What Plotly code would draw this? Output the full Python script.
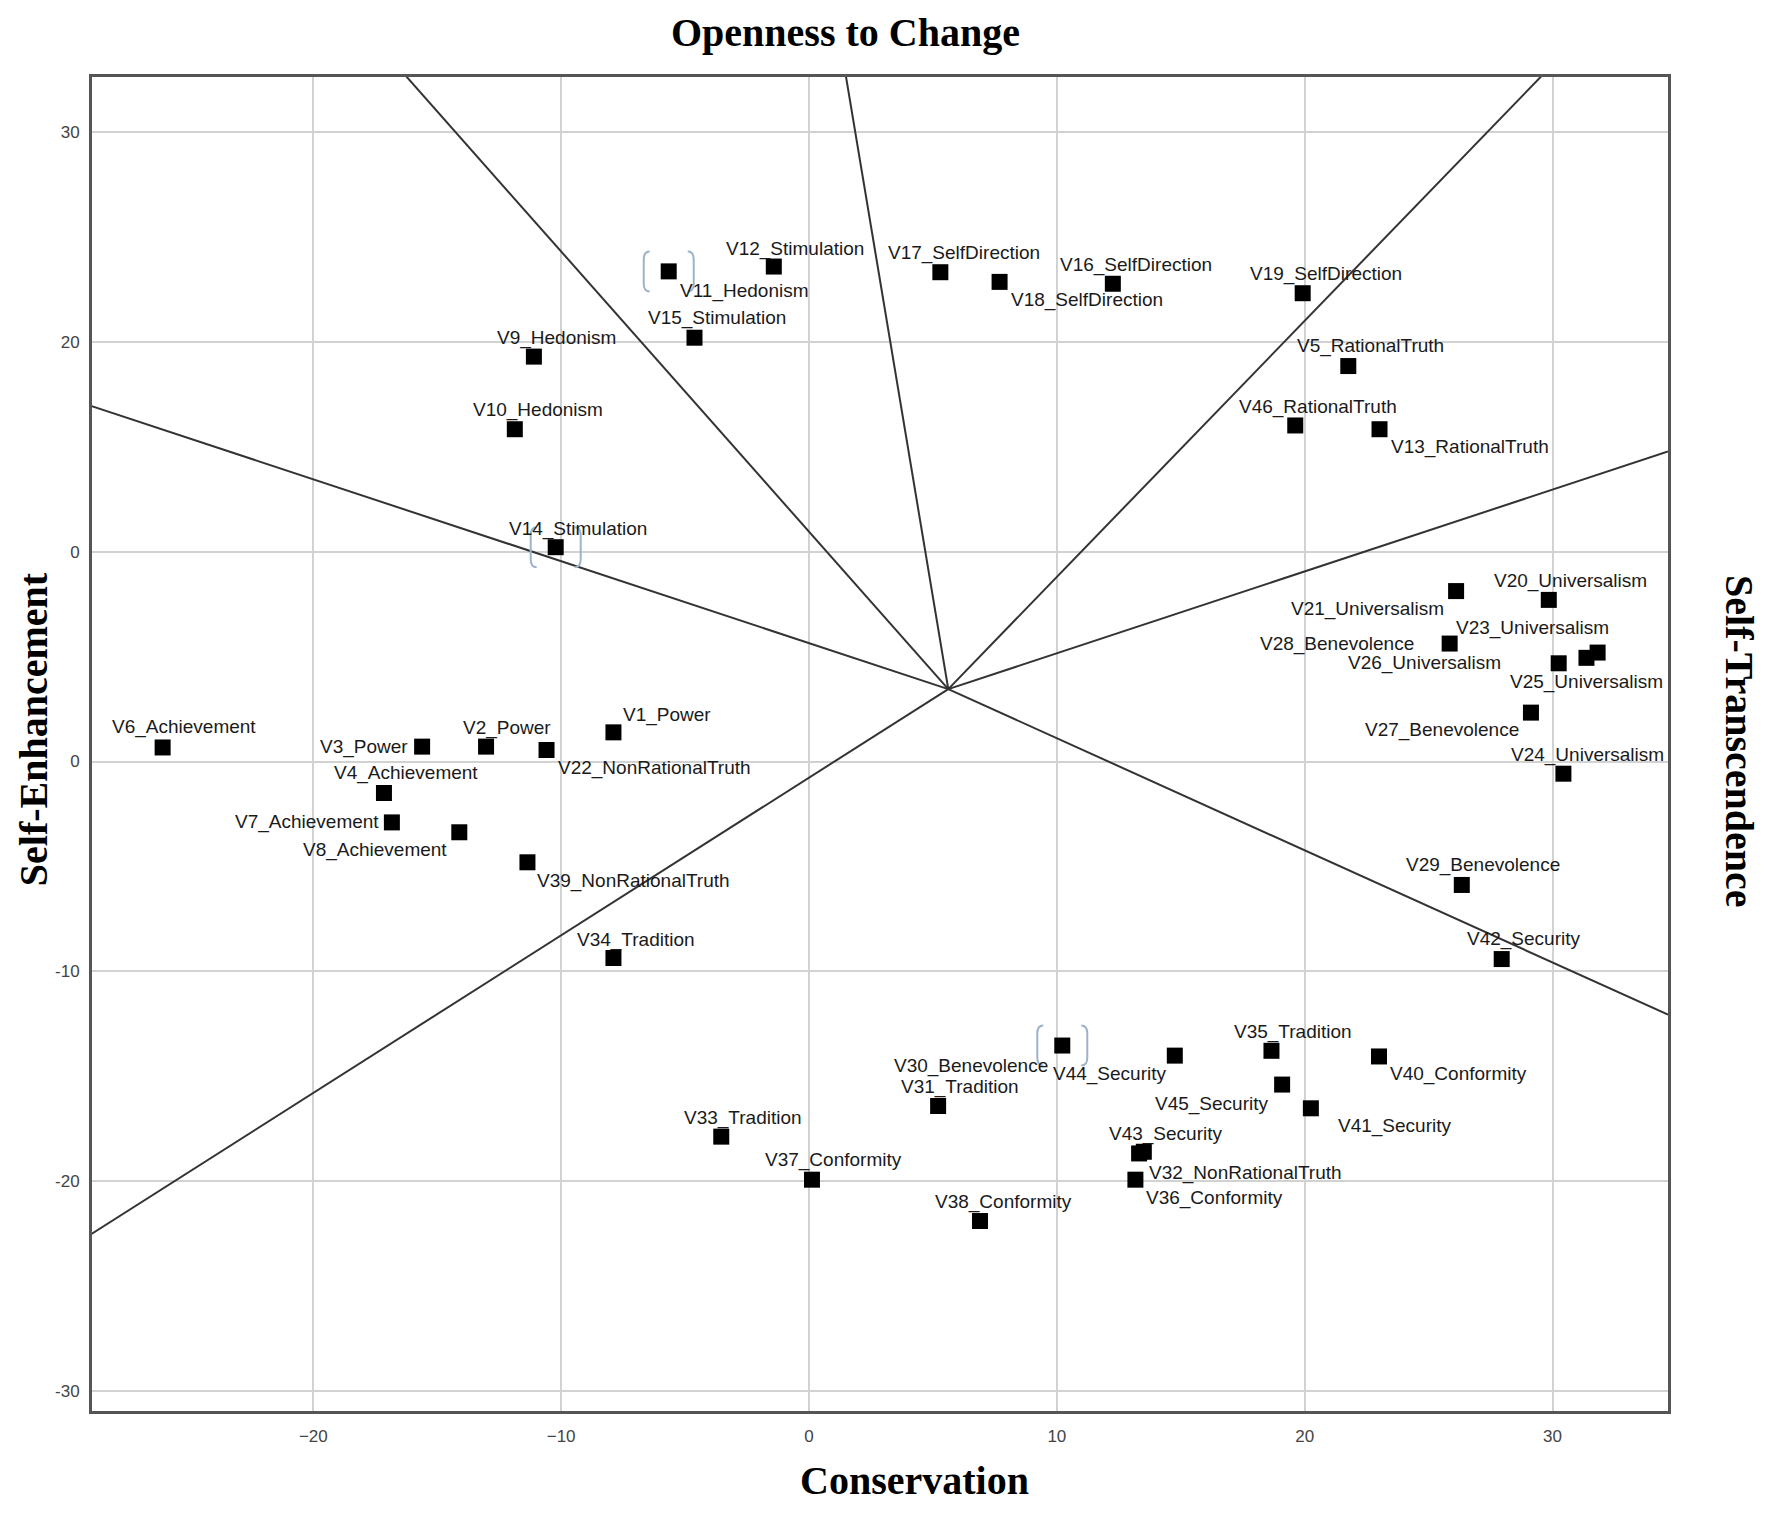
import plotly.graph_objects as go

# SSA item coordinates (dimension 1 = x, dimension 2 = y)
names = [
    "V1_Power", "V2_Power", "V3_Power", "V4_Achievement", "V5_RationalTruth",
    "V6_Achievement", "V7_Achievement", "V8_Achievement", "V9_Hedonism", "V10_Hedonism",
    "V11_Hedonism", "V12_Stimulation", "V13_RationalTruth", "V14_Stimulation", "V15_Stimulation",
    "V16_SelfDirection", "V17_SelfDirection", "V18_SelfDirection", "V19_SelfDirection",
    "V20_Universalism", "V21_Universalism", "V22_NonRationalTruth", "V23_Universalism",
    "V24_Universalism", "V25_Universalism", "V26_Universalism", "V27_Benevolence",
    "V28_Benevolence", "V29_Benevolence", "V30_Benevolence", "V31_Tradition",
    "V32_NonRationalTruth", "V33_Tradition", "V34_Tradition", "V35_Tradition",
    "V36_Conformity", "V37_Conformity", "V38_Conformity", "V39_NonRationalTruth",
    "V40_Conformity", "V41_Security", "V42_Security", "V43_Security", "V44_Security",
    "V45_Security", "V46_RationalTruth",
]
dim1 = [-7.89, -13.03, -15.61, -17.15, 21.76, -26.08, -16.83, -14.11, -11.10, -11.87,
        -5.66, -1.42, 23.02, -10.22, -4.62, 12.26, 5.30, 7.69, 19.92, 29.85,
        26.11, -10.59, 31.82, 30.44, 31.37, 30.25, 29.13, 25.85, 26.34, 10.22,
        5.21, 13.32, -3.54, -7.89, 18.66, 13.17, 0.12, 6.90, -11.36, 23.00,
        20.25, 27.95, 13.51, 14.76, 19.09, 19.62]
dim2 = [1.39, 0.71, 0.71, -1.50, 18.84, 0.67, -2.90, -3.37, 19.29, 15.83,
        23.35, 23.58, 15.83, 10.21, 20.19, 22.76, 23.31, 22.85, 22.31, 7.70,
        8.12, 0.55, 5.19, -0.58, 4.94, 4.68, 2.33, 5.62, -5.88, -13.53,
        -16.41, -18.67, -17.87, -9.36, -13.78, -19.92, -19.92, -21.89, -4.80, -14.05,
        -16.52, -9.41, -18.59, -14.01, -15.39, 16.01]

# partition lines drawn from a common centre out to the frame
center_x = 5.62
center_y = 3.45
ray_end_x = [-16.31, 1.48, 29.61, 34.66, 34.66, -29.02, -29.02]
ray_end_y = [32.72, 32.72, 32.72, 14.77, -12.06, -22.56, 16.96]

x_ticks = [-20, -10, 0, 10, 20, 30]
y_ticks = [-30, -20, -10, 0, 10, 20, 30]
y_tick_text = ["-30", "-20", "-10", "0", "0", "20", "30"]

highlighted = ["V11_Hedonism", "V14_Stimulation", "V30_Benevolence"]

# label placement: (anchor, dx px, dy px downwards)
label_pos = {
    "V1_Power": ("left", 8, -17), "V2_Power": ("center", 21, -19),
    "V3_Power": ("right", -12, 0), "V4_Achievement": ("center", 22, -20),
    "V5_RationalTruth": ("center", 22, -20), "V6_Achievement": ("center", 21, -20),
    "V7_Achievement": ("right", -11, 0), "V8_Achievement": ("right", -10, 18),
    "V9_Hedonism": ("center", 23, -19), "V10_Hedonism": ("center", 23, -19),
    "V11_Hedonism": ("left", 9, 20), "V12_Stimulation": ("center", 21, -18),
    "V13_RationalTruth": ("left", 9, 18), "V14_Stimulation": ("center", 22, -18),
    "V15_Stimulation": ("center", 23, -20), "V16_SelfDirection": ("center", 23, -19),
    "V17_SelfDirection": ("center", 24, -19), "V18_SelfDirection": ("left", 9, 18),
    "V19_SelfDirection": ("center", 23, -19), "V20_Universalism": ("center", 22, -19),
    "V21_Universalism": ("right", -10, 18), "V22_NonRationalTruth": ("left", 9, 18),
    "V23_Universalism": ("center", -65, -25), "V24_Universalism": ("center", 24, -19),
    "V25_Universalism": ("center", 0, 24), "V26_Universalism": ("right", -56, 0),
    "V27_Benevolence": ("right", -10, 17), "V28_Benevolence": ("right", -34, 0),
    "V29_Benevolence": ("center", 21, -20), "V30_Benevolence": ("right", -12, 20),
    "V31_Tradition": ("center", 22, -19), "V32_NonRationalTruth": ("left", 8, 20),
    "V33_Tradition": ("center", 22, -19), "V34_Tradition": ("center", 23, -18),
    "V35_Tradition": ("center", 22, -19), "V36_Conformity": ("left", 9, 18),
    "V37_Conformity": ("center", 22, -20), "V38_Conformity": ("center", 23, -19),
    "V39_NonRationalTruth": ("left", 8, 19), "V40_Conformity": ("left", 9, 18),
    "V41_Security": ("left", 25, 18), "V42_Security": ("center", 22, -20),
    "V43_Security": ("center", 22, -18), "V44_Security": ("right", -6, 18),
    "V45_Security": ("right", -11, 19), "V46_RationalTruth": ("center", 23, -18),
}

fig = go.Figure()

# rays
rx, ry = [], []
for ex, ey in zip(ray_end_x, ray_end_y):
    rx += [center_x, ex, None]
    ry += [center_y, ey, None]
fig.add_trace(go.Scatter(x=rx, y=ry, mode="lines", line=dict(color="#333333", width=2),
                         hoverinfo="skip", showlegend=False))

# items
fig.add_trace(go.Scatter(x=dim1, y=dim2, mode="markers", text=names,
                         marker=dict(symbol="square", size=16, color="black"),
                         hovertemplate="%{text}<br>%{x:.2f}, %{y:.2f}<extra></extra>",
                         showlegend=False))

annotations = []
for n, xv, yv in zip(names, dim1, dim2):
    anchor, dx, dy = label_pos[n]
    annotations.append(dict(x=xv, y=yv, xref="x", yref="y", text=n, showarrow=False,
                            xanchor=anchor, yanchor="middle", xshift=dx, yshift=-dy,
                            font=dict(family="Liberation Sans, Arial", size=19, color="#1a1a1a")))

# facet names round the frame
title_font = dict(family="Liberation Serif, Times New Roman", size=40, color="black")
annotations += [
    dict(text="<b>Openness to Change</b>", x=0.478, y=1.033, xref="paper", yref="paper",
         showarrow=False, xanchor="center", yanchor="middle", font=title_font),
    dict(text="<b>Conservation</b>", x=0.5216, y=-0.052, xref="paper", yref="paper",
         showarrow=False, xanchor="center", yanchor="middle", font=title_font),
    dict(text="<b>Self-Enhancement</b>", x=-0.0375, y=0.511, xref="paper", yref="paper",
         showarrow=False, xanchor="center", yanchor="middle", textangle=-90, font=title_font),
    dict(text="<b>Self-Transcendence</b>", x=1.045, y=0.5015, xref="paper", yref="paper",
         showarrow=False, xanchor="center", yanchor="middle", textangle=90, font=title_font),
]

# selection brackets around a few items
shapes = []
for n in highlighted:
    i = names.index(n)
    for side in (-1, 1):
        a = 19 * side
        b = 25 * side
        shapes.append(dict(type="path", xref="x", yref="y", xsizemode="pixel", ysizemode="pixel",
                           xanchor=dim1[i], yanchor=dim2[i],
                           path=f"M {a},20 Q {b},20 {b},12 L {b},-12 Q {b},-20 {a},-20",
                           line=dict(color="#9db3c9", width=2)))

fig.update_layout(
    width=1756, height=1497,
    margin=dict(l=84, r=96, t=69, b=94),
    paper_bgcolor="white", plot_bgcolor="white",
    annotations=annotations, shapes=shapes,
    font=dict(family="Liberation Sans, Arial", size=17, color="#444444"),
)
fig.update_xaxes(range=[-28.93, 34.66], tickvals=x_ticks, showgrid=True, gridcolor="#d2d2d2",
                 gridwidth=2, zeroline=False, showline=True, linecolor="#555555", linewidth=3,
                 mirror=True, ticks="", ticklabelstandoff=8)
fig.update_yaxes(range=[-30.94, 32.61], tickvals=y_ticks, ticktext=y_tick_text, showgrid=True,
                 gridcolor="#d2d2d2", gridwidth=2, zeroline=False, showline=True,
                 linecolor="#555555", linewidth=3, mirror=True, ticks="", ticklabelstandoff=6)

fig.write_html("out.html")
